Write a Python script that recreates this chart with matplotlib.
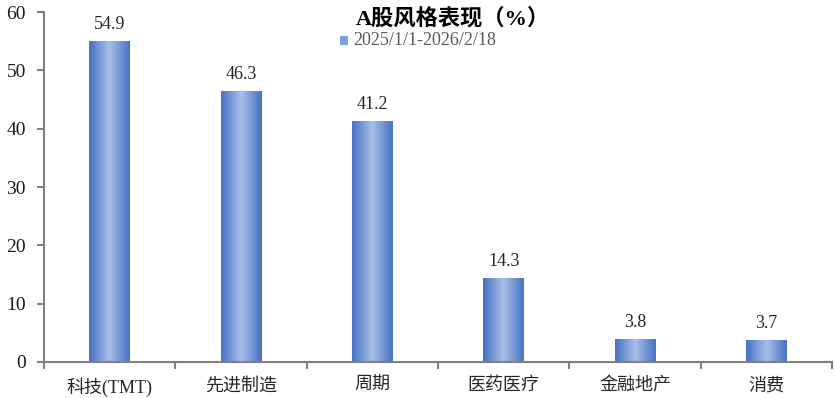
import numpy as np
import matplotlib
matplotlib.use("Agg")
import matplotlib.pyplot as plt
from matplotlib.colors import LinearSegmentedColormap
from matplotlib.patches import Rectangle

plt.rcParams['font.family'] = ['Liberation Serif', 'Noto Sans CJK SC', 'DejaVu Sans']

categories = ['科技(TMT)', '先进制造', '周期', '医药医疗', '金融地产', '消费']
values = [54.9, 46.3, 41.2, 14.3, 3.8, 3.7]
series_name = '2025/1/1-2026/2/18'
title = 'A股风格表现（%）'

edge_col = '#4472C4'
mid_col = '#A9BFE8'
cmap = LinearSegmentedColormap.from_list('bar', [edge_col, mid_col, edge_col])
grad = np.linspace(0, 1, 256).reshape(1, -1)

fig = plt.figure(figsize=(8.35, 3.98), dpi=100)
ax = fig.add_axes([0.0527, 0.0905, 0.9437, 0.8793])

x = np.arange(len(categories))
w = 0.31
for xi, v in zip(x, values):
    ax.imshow(grad, cmap=cmap, aspect='auto', extent=[xi - w / 2, xi + w / 2, 0, v],
              interpolation='bicubic', zorder=2)
    ax.text(xi, v + 1.5, f'{v:.1f}', ha='center', va='bottom', fontsize=13, color='#262626')

ax.set_xlim(-0.5, len(categories) - 0.5)
ax.set_ylim(0, 60)
ax.set_yticks(range(0, 61, 10))
ax.set_xticks(x)
ax.set_xticklabels(categories, fontsize=13, color='#262626')
ax.set_xticks(np.arange(-0.5, len(categories), 1), minor=True)
ax.tick_params(axis='x', which='major', length=0, pad=11)
ax.tick_params(axis='x', which='minor', length=5, width=1.5, color='#808080', direction='out')
ax.tick_params(axis='y', length=5, width=1.5, color='#808080', labelsize=14, labelcolor='#1a1a1a', pad=8)

for s in ['top', 'right']:
    ax.spines[s].set_visible(False)
for s in ['left', 'bottom']:
    ax.spines[s].set_color('#808080')
    ax.spines[s].set_linewidth(1.5)

fig.text(0.542, 0.953, title, ha='center', va='center', fontsize=16, fontweight='bold', color='#000000')

# legend
fig.patches.append(Rectangle((0.407, 0.887), 0.0095, 0.022, transform=fig.transFigure,
                             facecolor='#7F9FDD', edgecolor='none'))
fig.text(0.4225, 0.897, series_name, ha='left', va='center', fontsize=13, color='#595959')

fig.savefig('out.png', dpi=100)
